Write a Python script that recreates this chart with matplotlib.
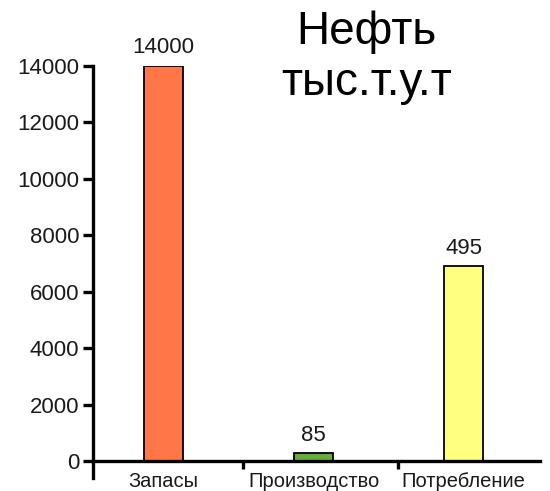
import matplotlib
matplotlib.use("Agg")

import matplotlib.pyplot as plt
from matplotlib.ticker import FixedLocator

plt.rcParams["font.family"] = ["Liberation Sans", "DejaVu Sans"]

# Categories, bar heights on the axis scale and the printed labels
CATEGORIES = ["Запасы", "Производство", "Потребление"]
HEIGHTS = [14000, 280, 6900]
VALUE_LABELS = ["14000", "85", "495"]
COLORS = ["#ff7748", "#6aac3c", "#ffff80"]
Y_TICKS = [0, 2000, 4000, 6000, 8000, 10000, 12000, 14000]

TEXT_COLOR = "#1a1a1a"


def main():
    fig = plt.figure(figsize=(5.5, 4.91), dpi=100)
    ax = fig.add_axes([0.169, 0.026, 0.813, 0.840])

    x = list(range(len(CATEGORIES)))
    bars = ax.bar(x, HEIGHTS, width=0.26, color=COLORS,
                  edgecolor="black", linewidth=1.3, zorder=2)

    for bar, text in zip(bars, VALUE_LABELS):
        ax.text(bar.get_x() + bar.get_width() / 2, bar.get_height() + 260,
                text, ha="center", va="bottom", fontsize=16,
                color=TEXT_COLOR)

    ax.set_xlim(-0.47, 2.51)
    ax.set_ylim(-600, 14000)

    # axis lines: x spine sits on zero, y spine runs a bit below it
    ax.spines["top"].set_visible(False)
    ax.spines["right"].set_visible(False)
    ax.spines["bottom"].set_position(("data", 0))
    for side in ("left", "bottom"):
        ax.spines[side].set_linewidth(2.4)
        ax.spines[side].set_zorder(3)

    ax.set_yticks(Y_TICKS)
    ax.set_yticklabels([str(v) for v in Y_TICKS], fontsize=16,
                       color=TEXT_COLOR)
    ax.tick_params(axis="y", direction="out", length=7, width=2.4, pad=3)

    ax.set_xticks(x)
    ax.set_xticklabels(CATEGORIES, fontsize=14.5, color=TEXT_COLOR)
    ax.tick_params(axis="x", which="major", length=0, pad=8)
    ax.xaxis.set_minor_locator(FixedLocator([0.53, 1.56]))
    ax.tick_params(axis="x", which="minor", direction="out",
                   length=6, width=2.4)

    fig.text(0.667, 0.980, "Нефть\nтыс.т.у.т", ha="center", va="top",
             fontsize=33, linespacing=1.2, color="black")

    fig.savefig("out.png", dpi=100)
    plt.close(fig)


if __name__ == "__main__":
    main()
